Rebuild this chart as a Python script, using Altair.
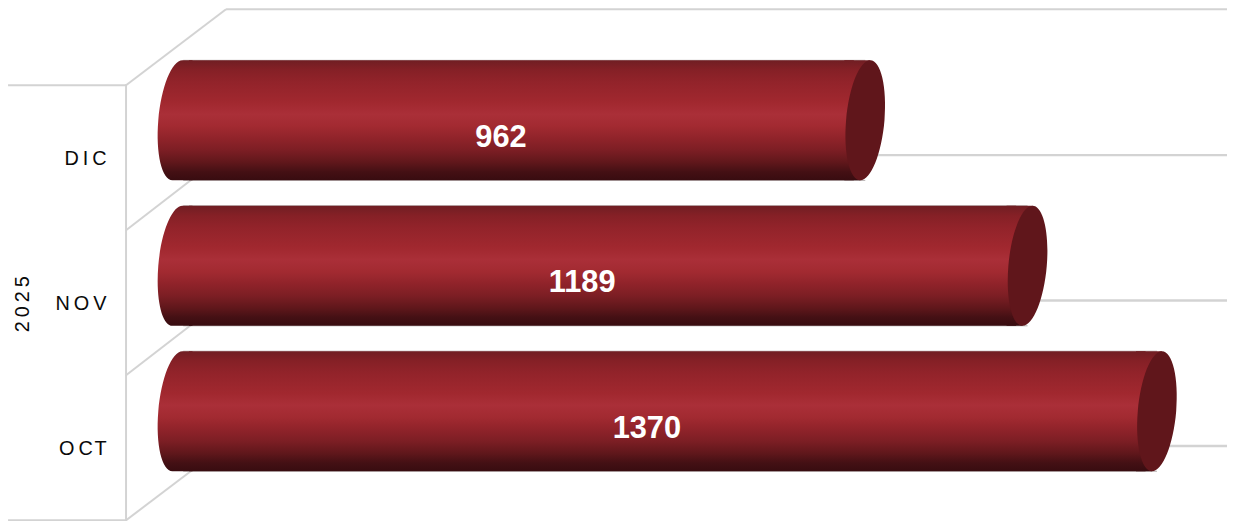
import altair as alt
import pandas as pd

months = ["DIC", "NOV", "OCT"]
values = [962, 1189, 1370]
labels_shown = ["D\u2009I\u2009C", "N\u2009O\u2009V", "O\u2009C\u200aT"]
group_label = "2\u20090\u20092\u20095"

# The page (chart + 8px margins) is fitted into the window, which shrinks it slightly.
FIT = 1235 / 1243
FIT_DY = 1.4

# decorative 3-D frame: x1, y1, x2, y2 in the final picture's pixels
frame = [
    (8, 85, 126, 85),
    (8, 520, 126, 520),
    (126, 84, 126, 521),
    (126, 85, 226, 9),
    (226, 9, 1230, 9),
    (126, 230, 192, 179),
    (126, 375, 192, 324),
    (126, 520, 192, 470),
]
grid_color = "#d3d3d3"

stops = [
    (0.0, "#701e23"), (0.08, "#852026"), (0.18, "#92232a"), (0.35, "#a1282f"),
    (0.45, "#aa2f38"), (0.55, "#a22a31"), (0.65, "#90232a"), (0.75, "#7c1e24"),
    (0.85, "#60171b"), (0.93, "#441014"), (1.0, "#380c10"),
]
gradient = alt.LinearGradient(
    gradient="linear", x1=0, x2=0, y1=0, y2=1,
    stops=[alt.GradientStop(offset=o, color=c) for o, c in stops],
)


def px(x):
    return x / FIT - 8


def py(y):
    return (y - FIT_DY) / FIT - 8


df = pd.DataFrame({"month": months, "value": values, "label": labels_shown})
df["half"] = df["value"] / 2

x_scale = alt.Scale(domain=[0, 1445], range=[170.6, 1210.5])
y_scale = alt.Scale(domain=months, range=[38.2, 477.4], paddingInner=0.175, paddingOuter=0.0875)
X = alt.X("value:Q", scale=x_scale, axis=None)
Y = alt.Y("month:N", scale=y_scale, axis=None, sort=months, title=None)

# Skewed ellipse in symbol units (1 unit = half the bar height)
RX, SK, K = 0.32, 0.083, 0.5523


def P(x, y):
    return f"{RX * x - SK * y:.4f} {y:.4f}"


ellipse = (
    f"M{P(0, -1)} C{P(K, -1)} {P(1, -K)} {P(1, 0)} "
    f"C{P(1, K)} {P(K, 1)} {P(0, 1)} "
    f"C{P(-K, 1)} {P(-1, K)} {P(-1, 0)} "
    f"C{P(-1, -K)} {P(-K, -1)} {P(0, -1)} Z"
)
left_cap = (
    f"M0.25 -1 L{P(0, -1)} C{P(-K, -1)} {P(-1, -K)} {P(-1, 0)} "
    f"C{P(-1, K)} {P(-K, 1)} {P(0, 1)} L0.25 1 Z"
)
right_body = f"M-0.35 -1 L{P(0, -1)} L{P(0, 1)} L-0.35 1 Z"
CAP_SIZE = (2 * 60 / FIT) ** 2

frame_df = pd.DataFrame(frame, columns=["x1", "y1", "x2", "y2"])
frame_df["x1"] = px(frame_df["x1"])
frame_df["x2"] = px(frame_df["x2"])
frame_df["y1"] = py(frame_df["y1"])
frame_df["y2"] = py(frame_df["y2"])
frame_layer = alt.Chart(frame_df).mark_rule(color=grid_color, strokeWidth=2).encode(
    x=alt.X("x1:Q", scale=None),
    x2="x2:Q",
    y=alt.Y("y1:Q", scale=None),
    y2="y2:Q",
)

grid = alt.Chart(df).mark_rule(color=grid_color, strokeWidth=2.5, yOffset=35).encode(
    y=Y, x=alt.value(px(190)), x2=alt.value(px(1230))
)

bars = (
    alt.Chart(df)
    .transform_calculate(bar_end="datum.value - 16", bar_start="16")
    .mark_bar(fill=gradient, strokeWidth=0)
    .encode(x=alt.X("bar_end:Q", scale=x_scale, axis=None), x2="bar_start:Q", y=Y)
)


def edge(offset):
    return (
        alt.Chart(df)
        .transform_calculate(bar_end="datum.value", bar_start="8")
        .mark_rule(color="#b4aeae", strokeWidth=1, yOffset=offset)
        .encode(x=alt.X("bar_end:Q", scale=x_scale, axis=None), x2="bar_start:Q", y=Y)
    )


def cap(path, fill):
    return alt.Chart(df).mark_point(
        shape=path, filled=True, fill=fill, size=CAP_SIZE, opacity=1, strokeWidth=0
    )


left = cap(left_cap, gradient).encode(x=alt.X("base:Q", scale=x_scale, axis=None), y=Y).transform_calculate(base="0")
body_end = cap(right_body, gradient).encode(x=X, y=Y)
end = cap(ellipse, "#60161b").encode(x=X, y=Y)

numbers = alt.Chart(df).mark_text(
    color="white", fontSize=31, fontWeight="bold", font="Liberation Sans", dx=-20.5, dy=17.5,
).encode(x=alt.X("half:Q", scale=x_scale, axis=None), y=Y, text=alt.Text("value:Q"))

cat_labels = alt.Chart(df).mark_text(
    color="#0a0a0a", fontSize=20, font="Liberation Sans", align="right", dy=38.5,
).encode(x=alt.value(px(106.5)), y=Y, text="label:N")

group = alt.Chart(pd.DataFrame({"t": [group_label]})).mark_text(
    color="#0a0a0a", fontSize=20, font="Liberation Sans", angle=270,
).encode(x=alt.value(px(23)), y=alt.value(py(304)), text="t:N")

chart = (
    alt.layer(
        frame_layer, grid, edge(-60.4), edge(60.4), left, bars, body_end, end,
        numbers, cat_labels, group,
    )
    .resolve_scale(y="shared", x="shared")
    .properties(width=1227, height=513, padding=0, autosize=alt.AutoSizeParams(type="none"))
    .configure_view(stroke=None)
)

chart.save("out.html", embed_options={"renderer": "svg", "actions": False})
